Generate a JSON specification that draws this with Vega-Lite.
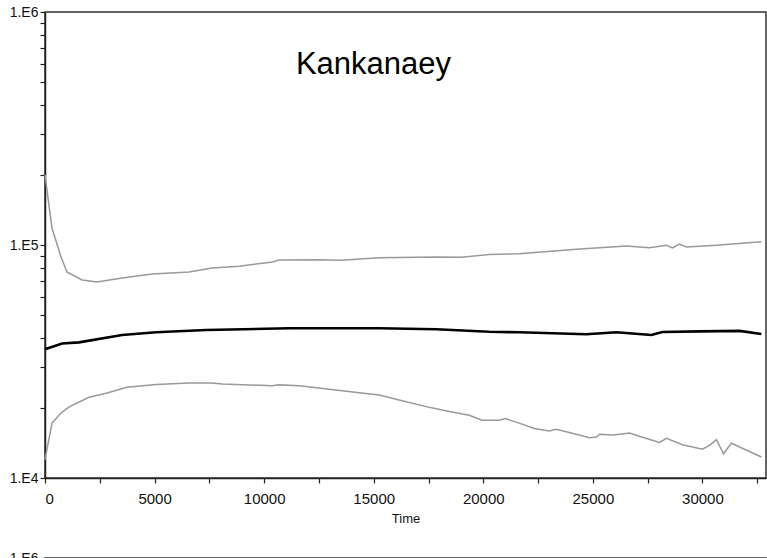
{
  "$schema": "https://vega.github.io/schema/vega-lite/v6.json",
  "background": "white",
  "padding": {"top": 4, "left": 8, "right": 0, "bottom": 0},
  "spacing": 24,
  "config": {
    "font": "Liberation Sans",
    "view": {"stroke": "#333", "strokeWidth": 1.5},
    "axis": {
      "domainColor": "#222", "domainWidth": 1.5, "tickColor": "#222", "tickWidth": 1.2,
      "labelColor": "#111", "labelFont": "Liberation Sans", "titleFont": "Liberation Sans",
      "titleColor": "#111", "titleFontWeight": "normal", "grid": false, "labelOverlap": false
    }
  },
  "datasets": {
    "kank": [
      {"series": "upper", "t": 0, "v": 200000},
      {"series": "upper", "t": 320, "v": 118000},
      {"series": "upper", "t": 730, "v": 89000},
      {"series": "upper", "t": 1000, "v": 76600},
      {"series": "upper", "t": 1690, "v": 70800},
      {"series": "upper", "t": 2370, "v": 69400},
      {"series": "upper", "t": 3520, "v": 72200},
      {"series": "upper", "t": 4890, "v": 75000},
      {"series": "upper", "t": 6580, "v": 76600},
      {"series": "upper", "t": 7630, "v": 79700},
      {"series": "upper", "t": 8860, "v": 81000},
      {"series": "upper", "t": 10370, "v": 84600},
      {"series": "upper", "t": 10680, "v": 86200},
      {"series": "upper", "t": 12500, "v": 86500},
      {"series": "upper", "t": 13500, "v": 86000},
      {"series": "upper", "t": 15250, "v": 88100},
      {"series": "upper", "t": 17850, "v": 88900},
      {"series": "upper", "t": 19000, "v": 88500},
      {"series": "upper", "t": 20270, "v": 91000},
      {"series": "upper", "t": 21640, "v": 91800},
      {"series": "upper", "t": 24250, "v": 95800},
      {"series": "upper", "t": 26530, "v": 99000},
      {"series": "upper", "t": 27580, "v": 97400},
      {"series": "upper", "t": 28360, "v": 99700},
      {"series": "upper", "t": 28630, "v": 97100},
      {"series": "upper", "t": 28950, "v": 101000},
      {"series": "upper", "t": 29270, "v": 98000},
      {"series": "upper", "t": 30640, "v": 99700},
      {"series": "upper", "t": 32690, "v": 103300},
      {"series": "mean", "t": 0, "v": 35700},
      {"series": "mean", "t": 780, "v": 37800},
      {"series": "mean", "t": 1550, "v": 38200},
      {"series": "mean", "t": 3520, "v": 41100},
      {"series": "mean", "t": 5070, "v": 42200},
      {"series": "mean", "t": 7350, "v": 43200},
      {"series": "mean", "t": 11140, "v": 43900},
      {"series": "mean", "t": 15250, "v": 43900},
      {"series": "mean", "t": 17850, "v": 43500},
      {"series": "mean", "t": 20270, "v": 42400},
      {"series": "mean", "t": 21640, "v": 42200},
      {"series": "mean", "t": 24700, "v": 41400},
      {"series": "mean", "t": 26070, "v": 42200},
      {"series": "mean", "t": 27670, "v": 41100},
      {"series": "mean", "t": 28170, "v": 42300},
      {"series": "mean", "t": 29860, "v": 42600},
      {"series": "mean", "t": 31690, "v": 42800},
      {"series": "mean", "t": 32690, "v": 41500},
      {"series": "lower", "t": 0, "v": 12000},
      {"series": "lower", "t": 320, "v": 17200},
      {"series": "lower", "t": 730, "v": 19000},
      {"series": "lower", "t": 1100, "v": 20200},
      {"series": "lower", "t": 2010, "v": 22200},
      {"series": "lower", "t": 2790, "v": 23100},
      {"series": "lower", "t": 3740, "v": 24500},
      {"series": "lower", "t": 5070, "v": 25200},
      {"series": "lower", "t": 6580, "v": 25600},
      {"series": "lower", "t": 7580, "v": 25600},
      {"series": "lower", "t": 8080, "v": 25300},
      {"series": "lower", "t": 10370, "v": 24900},
      {"series": "lower", "t": 10680, "v": 25100},
      {"series": "lower", "t": 11600, "v": 24900},
      {"series": "lower", "t": 14340, "v": 23200},
      {"series": "lower", "t": 15250, "v": 22700},
      {"series": "lower", "t": 16160, "v": 21600},
      {"series": "lower", "t": 17530, "v": 20100},
      {"series": "lower", "t": 18450, "v": 19300},
      {"series": "lower", "t": 19360, "v": 18600},
      {"series": "lower", "t": 19950, "v": 17700},
      {"series": "lower", "t": 20730, "v": 17700},
      {"series": "lower", "t": 21000, "v": 18000},
      {"series": "lower", "t": 21640, "v": 17200},
      {"series": "lower", "t": 22330, "v": 16300},
      {"series": "lower", "t": 23010, "v": 15900},
      {"series": "lower", "t": 23330, "v": 16200},
      {"series": "lower", "t": 24380, "v": 15300},
      {"series": "lower", "t": 24840, "v": 14900},
      {"series": "lower", "t": 25160, "v": 15000},
      {"series": "lower", "t": 25300, "v": 15400},
      {"series": "lower", "t": 25890, "v": 15300},
      {"series": "lower", "t": 26210, "v": 15400},
      {"series": "lower", "t": 26670, "v": 15600},
      {"series": "lower", "t": 27120, "v": 15100},
      {"series": "lower", "t": 28040, "v": 14200},
      {"series": "lower", "t": 28360, "v": 14800},
      {"series": "lower", "t": 29090, "v": 13900},
      {"series": "lower", "t": 30000, "v": 13300},
      {"series": "lower", "t": 30320, "v": 13800},
      {"series": "lower", "t": 30640, "v": 14600},
      {"series": "lower", "t": 30960, "v": 12700},
      {"series": "lower", "t": 31320, "v": 14100},
      {"series": "lower", "t": 32690, "v": 12300}
    ]
  },
  "vconcat": [
    {
      "width": 721,
      "height": 466,
      "title": {"text": "Kankanaey", "fontSize": 31, "fontWeight": "normal", "font": "Liberation Sans", "color": "#000", "anchor": "middle", "frame": "group", "dx": -32, "offset": -100, "baseline": "alphabetic"},
      "data": {"name": "kank"},
      "mark": {"type": "line", "interpolate": "linear"},
      "encoding": {
        "x": {"field": "t", "type": "quantitative", "title": "Time",
          "scale": {"domain": [0, 32900], "nice": false, "zero": false},
          "axis": {"values": [0, 2500, 5000, 7500, 10000, 12500, 15000, 17500, 20000, 22500, 25000, 27500, 30000, 32500],
            "labelExpr": "datum.value % 5000 === 0 ? '' + datum.value : ''",
            "labelFontSize": 15, "tickSize": 5, "labelPadding": 8, "titleFontSize": 13, "titlePadding": 6,
            "encode": {"ticks": {"update": {"y2": {"signal": "datum.value % 5000 === 0 ? 5 : 2"}}}}}},
        "y": {"field": "v", "type": "quantitative", "title": null,
          "scale": {"type": "log", "domain": [10000, 1000000], "nice": false},
          "axis": {"values": [10000, 20000, 30000, 40000, 50000, 60000, 70000, 80000, 90000, 100000, 200000, 300000, 400000, 500000, 600000, 700000, 800000, 900000, 1000000],
            "labelExpr": "abs(log(datum.value)/LN10 - round(log(datum.value)/LN10)) < 0.001 ? '1.E' + round(log(datum.value)/LN10) : ''",
            "labelFontSize": 14, "tickSize": 5, "labelPadding": 2,
            "encode": {"ticks": {"update": {"x2": {"signal": "abs(log(datum.value)/LN10 - round(log(datum.value)/LN10)) < 0.001 ? -5 : -3"}}}}}},
        "detail": {"field": "series"},
        "color": {"condition": {"test": "datum.series === 'mean'", "value": "#000000"}, "value": "#999999"},
        "strokeWidth": {"condition": {"test": "datum.series === 'mean'", "value": 2.6}, "value": 1.5}
      }
    },
    {
      "width": 721,
      "height": 466,
      "data": {"values": []},
      "mark": {"type": "line"},
      "encoding": {
        "x": {"field": "t", "type": "quantitative",
          "scale": {"domain": [0, 32900], "nice": false, "zero": false},
          "axis": null},
        "y": {"field": "v", "type": "quantitative", "title": null,
          "scale": {"type": "log", "domain": [10000, 1000000], "nice": false},
          "axis": {"values": [1000000],
            "labelExpr": "'1.E' + round(log(datum.value)/LN10)",
            "labelFontSize": 14, "tickSize": 5, "labelPadding": 2}}
      }
    }
  ]
}
